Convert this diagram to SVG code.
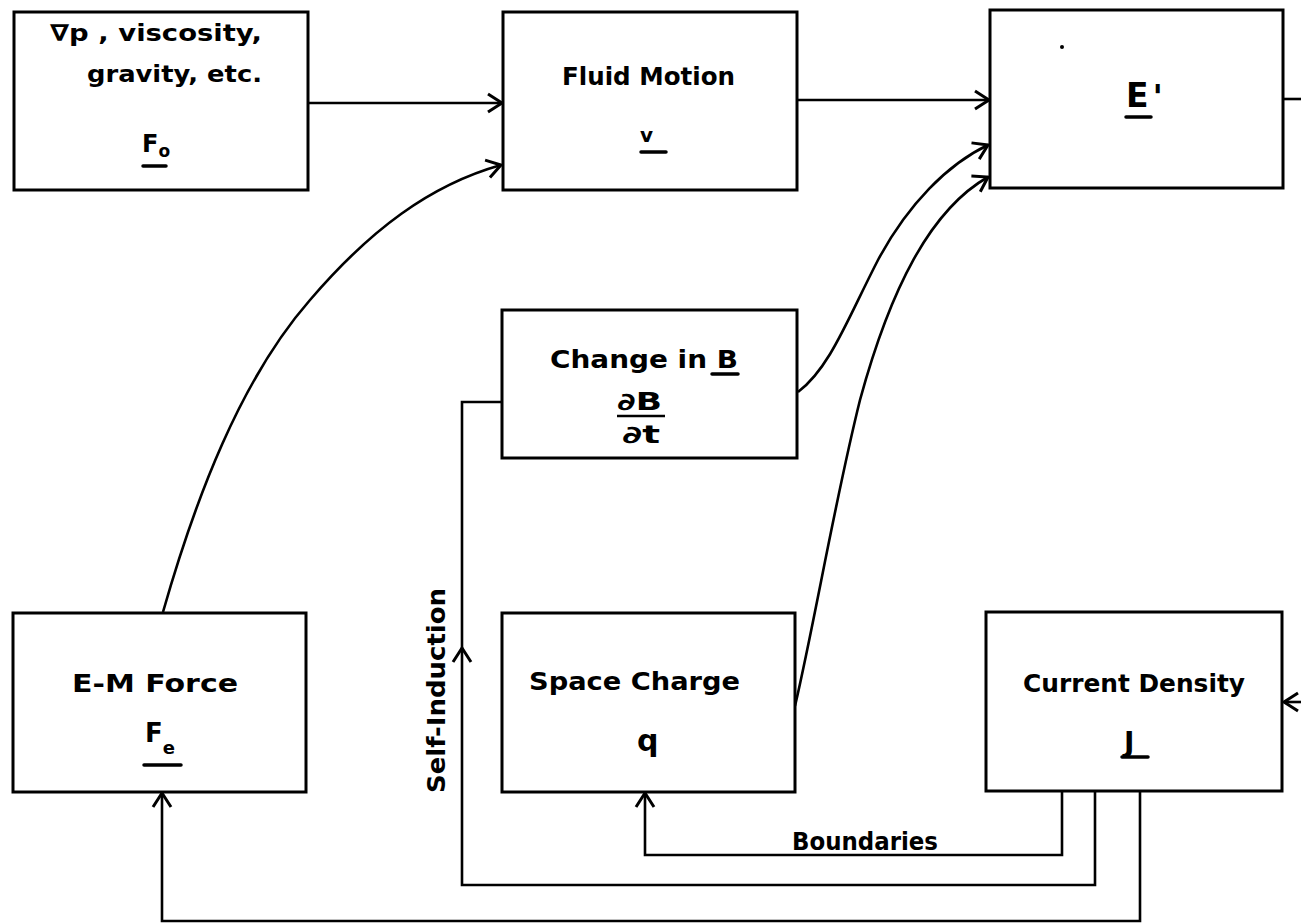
<svg xmlns="http://www.w3.org/2000/svg" width="1301" height="924" viewBox="0 0 1301 924">
<style>
.box{fill:#fff;stroke:#000;stroke-width:3}
.t{font-family:"DejaVu Sans","Liberation Sans",sans-serif;font-weight:bold;fill:#000}
.c{fill:none;stroke:#000;stroke-width:2.6}
.u{stroke:#000;stroke-width:3.5;stroke-linecap:round}
</style>
<defs>
<marker id="arr" markerUnits="userSpaceOnUse" markerWidth="26" markerHeight="26" refX="16" refY="13" orient="auto" overflow="visible">
<path d="M2,4 L16,13 L2,22" fill="none" stroke="#000" stroke-width="3" stroke-linejoin="miter"/>
</marker>
</defs>
<rect width="1301" height="924" fill="#fff"/>
<g id="connectors">
<path class="c" d="M308,103 H502" marker-end="url(#arr)"/>
<path class="c" d="M797,100 H989" marker-end="url(#arr)"/>
<path class="c" d="M1283,99 H1301"/>
<path class="c" d="M163,612 C195,500 240,380 310,300 C370,230 430,185 501,165" marker-end="url(#arr)"/>
<path class="c" d="M798,392 C830,368 848,318 878,260 C908,204 948,164 988,145" marker-end="url(#arr)"/>
<path class="c" d="M795,706 C815,620 835,500 860,400 C890,290 930,210 988,177" marker-end="url(#arr)"/>
<path class="c" d="M1301,702 H1284" marker-end="url(#arr)"/>
<path class="c" d="M1062,792 V855 H645 V793" marker-end="url(#arr)"/>
<path class="c" d="M1095,792 V885 H462 V648" marker-end="url(#arr)"/>
<path class="c" d="M462,650 V402 H502"/>
<path class="c" d="M1140,792 V921 H162 V793" marker-end="url(#arr)"/>
</g>
<g id="node-f0">
<rect class="box" x="14" y="12" width="294" height="178"/>
<text class="t" x="50" y="41" font-size="23" textLength="212" lengthAdjust="spacingAndGlyphs">∇p , viscosity,</text>
<text class="t" x="87" y="82" font-size="23" textLength="175" lengthAdjust="spacingAndGlyphs">gravity, etc.</text>
<text class="t" x="142" y="152" font-size="24">F<tspan font-size="17" dy="5">o</tspan></text>
<line class="u" x1="143" y1="166" x2="166" y2="166"/>
</g>
<g id="node-fluid">
<rect class="box" x="503" y="12" width="294" height="178"/>
<text class="t" x="562" y="85" font-size="24" textLength="173" lengthAdjust="spacingAndGlyphs">Fluid Motion</text>
<text class="t" x="640" y="142" font-size="20">v</text>
<line class="u" x1="641" y1="152" x2="666" y2="152"/>
</g>
<g id="node-eprime">
<rect class="box" x="990" y="10" width="293" height="178"/>
<circle cx="1062" cy="47" r="2" fill="#000"/>
<text class="t" x="1126" y="107" font-size="33">E<tspan font-style="italic" font-size="34" dx="4" dy="2">'</tspan></text>
<line class="u" x1="1126" y1="117" x2="1151" y2="117"/>
</g>
<g id="node-changeb">
<rect class="box" x="502" y="310" width="295" height="148"/>
<text class="t" x="550" y="368" font-size="24" textLength="188" lengthAdjust="spacingAndGlyphs">Change in B</text>
<line class="u" x1="712" y1="374" x2="738" y2="374"/>
<text class="t" x="617" y="410" font-size="24" textLength="45" lengthAdjust="spacingAndGlyphs">∂B</text>
<line x1="617" y1="416" x2="665" y2="416" stroke="#000" stroke-width="2.5"/>
<text class="t" x="622" y="443" font-size="24" textLength="38" lengthAdjust="spacingAndGlyphs">∂t</text>
</g>
<g id="node-emforce">
<rect class="box" x="13" y="613" width="293" height="179"/>
<text class="t" x="72" y="692" font-size="24" textLength="166" lengthAdjust="spacingAndGlyphs">E-M Force</text>
<text class="t" x="145" y="742" font-size="26">F<tspan font-size="18" dy="12">e</tspan></text>
<line class="u" x1="144" y1="765" x2="181" y2="765"/>
</g>
<g id="node-spacecharge">
<rect class="box" x="502" y="613" width="293" height="179"/>
<text class="t" x="529" y="690" font-size="24" textLength="211" lengthAdjust="spacingAndGlyphs">Space Charge</text>
<text class="t" x="637" y="751" font-size="30">q</text>
</g>
<g id="node-current">
<rect class="box" x="986" y="612" width="296" height="179"/>
<text class="t" x="1023" y="692" font-size="24" textLength="222" lengthAdjust="spacingAndGlyphs">Current Density</text>
<text class="t" x="1124" y="752" font-size="28">J</text>
<line class="u" x1="1122" y1="757" x2="1148" y2="757"/>
</g>
<g id="labels">
<text class="t" x="792" y="850" font-size="24" textLength="146" lengthAdjust="spacingAndGlyphs">Boundaries</text>
<text class="t" transform="translate(445,793) rotate(-90)" x="0" y="0" font-size="24" textLength="205" lengthAdjust="spacingAndGlyphs">Self-Induction</text>
</g>
</svg>
